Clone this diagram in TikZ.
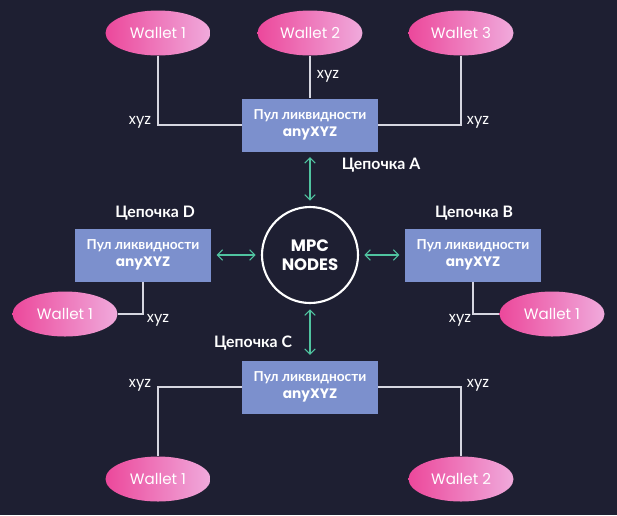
\documentclass[tikz,border=0pt]{standalone}
\usepackage{fontspec}
\setmainfont{Poppins}
\newfontfamily\cyr{Lato}
\usetikzlibrary{arrows.meta, shapes.geometric, positioning}
\definecolor{bgcol}{RGB}{30,31,50}
\definecolor{poolcol}{RGB}{124,144,205}
\definecolor{pinkl}{RGB}{236,72,155}
\definecolor{pinkr}{RGB}{240,170,220}
\definecolor{linkcol}{RGB}{80,196,160}
\definecolor{wirecol}{RGB}{214,214,224}

\tikzset{
  wallet/.style={ellipse, minimum width=2.1cm, minimum height=0.9cm, inner sep=0pt,
    left color=pinkl, right color=pinkr, text=white, font=\fontsize{8.6}{10}\selectfont},
  pool/.style={rectangle, fill=poolcol, minimum width=2.72cm, minimum height=1.06cm,
    text=white, align=center, font=\fontsize{7.8}{10}\selectfont\bfseries},
  mpc/.style={circle, draw=white, line width=1.2pt, fill=bgcol, minimum size=1.92cm,
    text=white, align=center, font=\fontsize{9.4}{11}\selectfont\bfseries},
  chain/.style={text=white, font=\cyr\fontsize{9}{10}\selectfont\bfseries},
  amt/.style={text=white, font=\fontsize{8.4}{10}\selectfont},
  wire/.style={wirecol, line width=0.8pt},
  link/.style={linkcol, line width=0.6pt, {Straight Barb[length=3pt,width=6pt]}-{Straight Barb[length=3pt,width=6pt]}, shorten <=3pt, shorten >=3pt}
}

\begin{document}
\begin{tikzpicture}[x=0.02cm, y=-0.02cm]
  \fill[bgcol] (0,0) rectangle (617,515);

  % centre
  \node[mpc] (mpc) at (310,255) {MPC\\NODES};

  % pools
  \node[pool] (pa) at (310,125) {{\cyr Пул ликвидности}\\anyXYZ};
  \node[pool] (pb) at (473,255) {{\cyr Пул ликвидности}\\anyXYZ};
  \node[pool] (pc) at (310,387) {{\cyr Пул ликвидности}\\anyXYZ};
  \node[pool] (pd) at (143,255) {{\cyr Пул ликвидности}\\anyXYZ};

  \node[chain] (ca) at (381,165) {Цепочка A};
  \node[chain] (cb) at (474,213) {Цепочка B};
  \node[chain] (cc) at (253,343) {Цепочка C};
  \node[chain] (cd) at (155,213) {Цепочка D};

  % wallets
  \node[wallet] (wa1) at (158,33) {Wallet 1};
  \node[wallet] (wa2) at (310,33) {Wallet 2};
  \node[wallet] (wa3) at (461,33) {Wallet 3};
  \node[wallet] (wd1) at (65,314) {Wallet 1};
  \node[wallet] (wb1) at (552,314) {Wallet 1};
  \node[wallet] (wc1) at (158,479) {Wallet 1};
  \node[wallet] (wc2) at (461,479) {Wallet 2};

  % wallet wires
  \draw[wire] (wa1.south) |- (pa.west);
  \draw[wire] (wa2.south) -- (pa.north);
  \draw[wire] (wa3.south) |- (pa.east);
  \draw[wire] (pd.south) |- (wd1.east);
  \draw[wire] (pb.south) |- (wb1.west);
  \draw[wire] (pc.west) -| (wc1.north);
  \draw[wire] (pc.east) -| (wc2.north);

  \node[amt] (xa1) at (140,122) {xyz};
  \node[amt] (xa2) at (328,76) {xyz};
  \node[amt] (xa3) at (478,122) {xyz};
  \node[amt] (xd1) at (158,320) {xyz};
  \node[amt] (xb1) at (460,320) {xyz};
  \node[amt] (xc1) at (140,385) {xyz};
  \node[amt] (xc2) at (478,385) {xyz};

  % links to the mpc nodes
  \draw[link] (pa.south) -- (mpc.north);
  \draw[link] (pb.west) -- (mpc.east);
  \draw[link] (pc.north) -- (mpc.south);
  \draw[link] (pd.east) -- (mpc.west);
\end{tikzpicture}
\end{document}
